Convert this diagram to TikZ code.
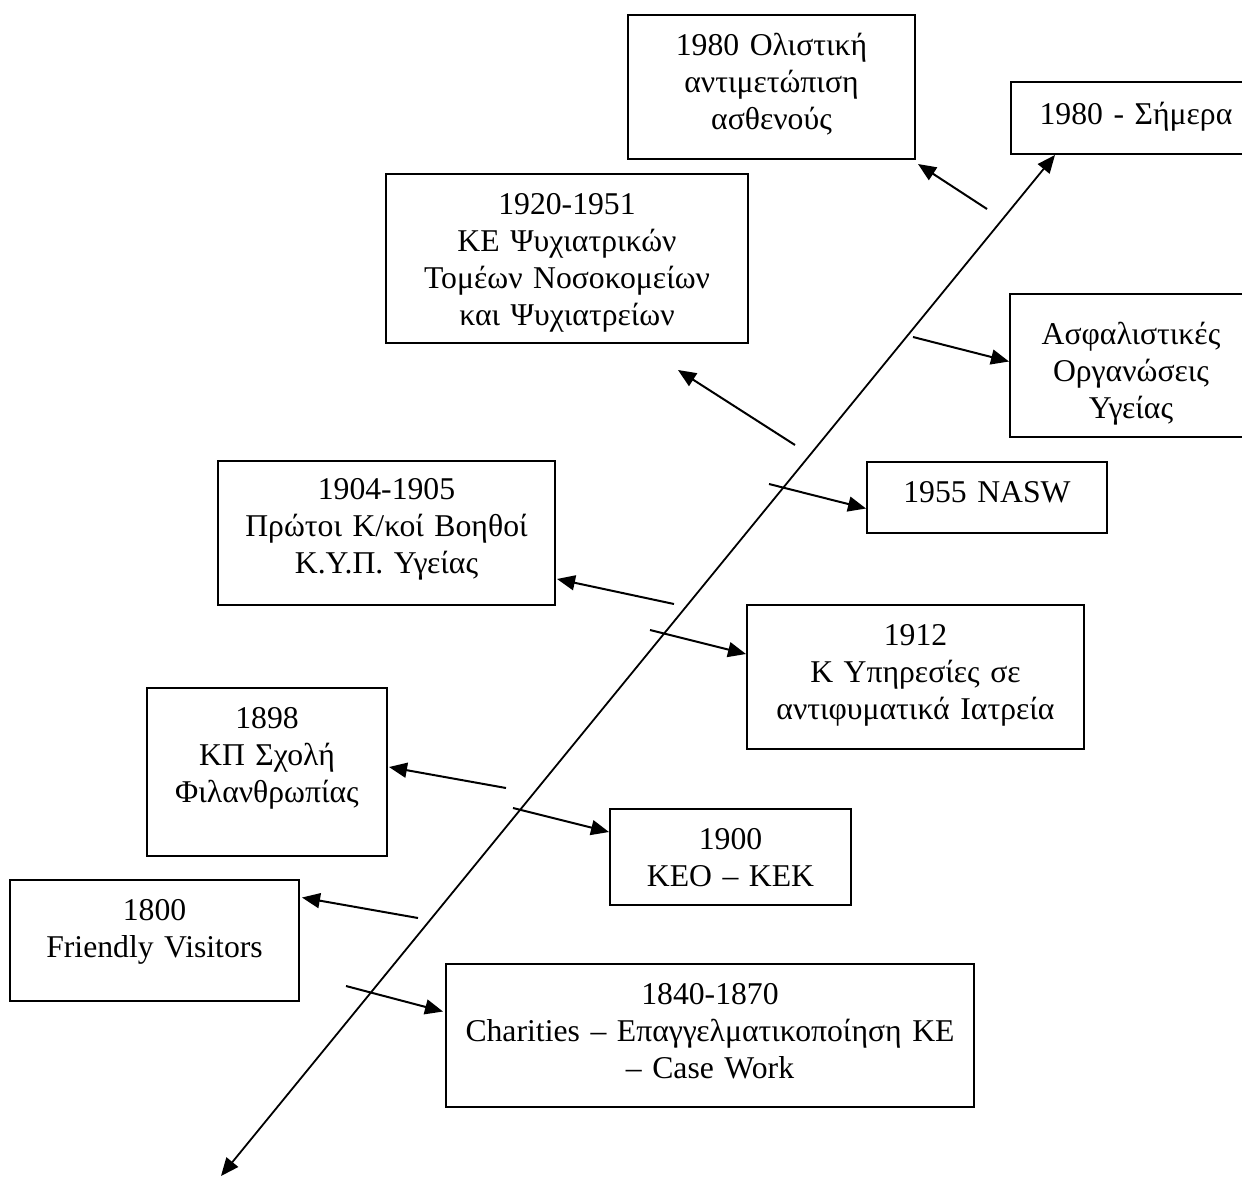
\documentclass[tikz,border=0pt]{standalone}
\usepackage{fontspec}
\setmainfont{Liberation Serif}
\usepackage{tikz}
\usetikzlibrary{arrows.meta,calc}
\definecolor{cInk}{HTML}{000000}
\definecolor{cPaper}{HTML}{FFFFFF}
\tikzset{
  tl/box/.style ={draw=cInk, line width=2pt, anchor=north west, fill=cPaper,
                  align=center, inner sep=0pt, text height=40pt},
  tl/arr/.style ={-{Triangle[length=18pt, width=15pt]}, line width=2pt, cInk},
  tl/axis/.style={{Triangle[length=18pt, width=15pt]}-{Triangle[length=18pt, width=15pt]},
                  line width=1.8pt, cInk}
}
\begin{document}
\begin{tikzpicture}[x=1pt, y=-1pt, font=\fontsize{31.7}{37}\selectfont]
    \useasboundingbox[fill=cPaper] (0,0) rectangle (1242,1176);
    % --- event boxes (top-left corner, width, space under first line) ---
    \node[tl/box, text width=287pt, text depth=104pt] (hol) at (627,14)
         {1980 Ολιστική\\αντιμετώπιση\\ασθενούς};
    \node[tl/box, text width=250pt, text height=42pt, text depth=30pt] (today) at (1010,81)
         {1980 - Σήμερα};
    \node[tl/box, text width=362pt, text depth=129pt] (psy) at (385,173)
         {1920-1951\\ΚΕ Ψυχιατρικών\\Τομέων Νοσοκομείων\\και Ψυχιατρείων};
    \node[tl/box, text width=242pt, text height=50pt, text depth=93pt] (ins) at (1009,293)
         {Ασφαλιστικές\\Οργανώσεις\\Υγείας};
    \node[tl/box, text width=240pt, text depth=31pt] (nasw) at (866,461)
         {1955 NASW};
    \node[tl/box, text width=337pt, text height=38pt, text depth=106pt] (b1904) at (217,460)
         {1904-1905\\Πρώτοι Κ/κοί Βοηθοί\\Κ.Υ.Π. Υγείας};
    \node[tl/box, text width=337pt, text depth=104pt] (b1912) at (746,604)
         {1912\\Κ Υπηρεσίες σε\\αντιφυματικά Ιατρεία};
    \node[tl/box, text width=240pt, text depth=128pt] (b1898) at (146,687)
         {1898\\ΚΠ Σχολή\\Φιλανθρωπίας};
    \node[tl/box, text width=241pt, text depth=56pt] (b1900) at (609,808)
         {1900\\ΚΕΟ – ΚΕΚ};
    \node[tl/box, text width=289pt, text depth=81pt] (b1800) at (9,879)
         {1800\\Friendly Visitors};
    \node[tl/box, text width=528pt, text depth=103pt] (b1840) at (445,963)
         {1840-1870\\Charities – Επαγγελματικοποίηση ΚΕ\\– Case Work};
    % --- time axis ---
    \coordinate (past) at (221,1176);
    \draw[tl/axis] (past) -- ($(today.south west)+(45,0)$);
    % --- arrows from the axis to the boxes ---
    \foreach \i/\x/\y/\n/\dx/\dy in {1/987/209/hol.south east/2/4,
                                     2/795/445/psy.south/111/26,
                                     3/913/337/ins.west/0/-4,
                                     4/769/484/nasw.west/0/11,
                                     5/674/604/b1904.east/1/46,
                                     6/650/630/b1912.west/0/-23,
                                     7/506/788/b1898.east/1/-5,
                                     8/513/808/b1900.west/0/-25,
                                     9/418/918/b1800.east/2/-43,
                                     10/346/986/b1840.west/-2/-24} {
      \coordinate (s\i) at (\x,\y);
      \draw[tl/arr] (s\i) -- ($(\n)+(\dx,\dy)$);
    }
\end{tikzpicture}
\end{document}
